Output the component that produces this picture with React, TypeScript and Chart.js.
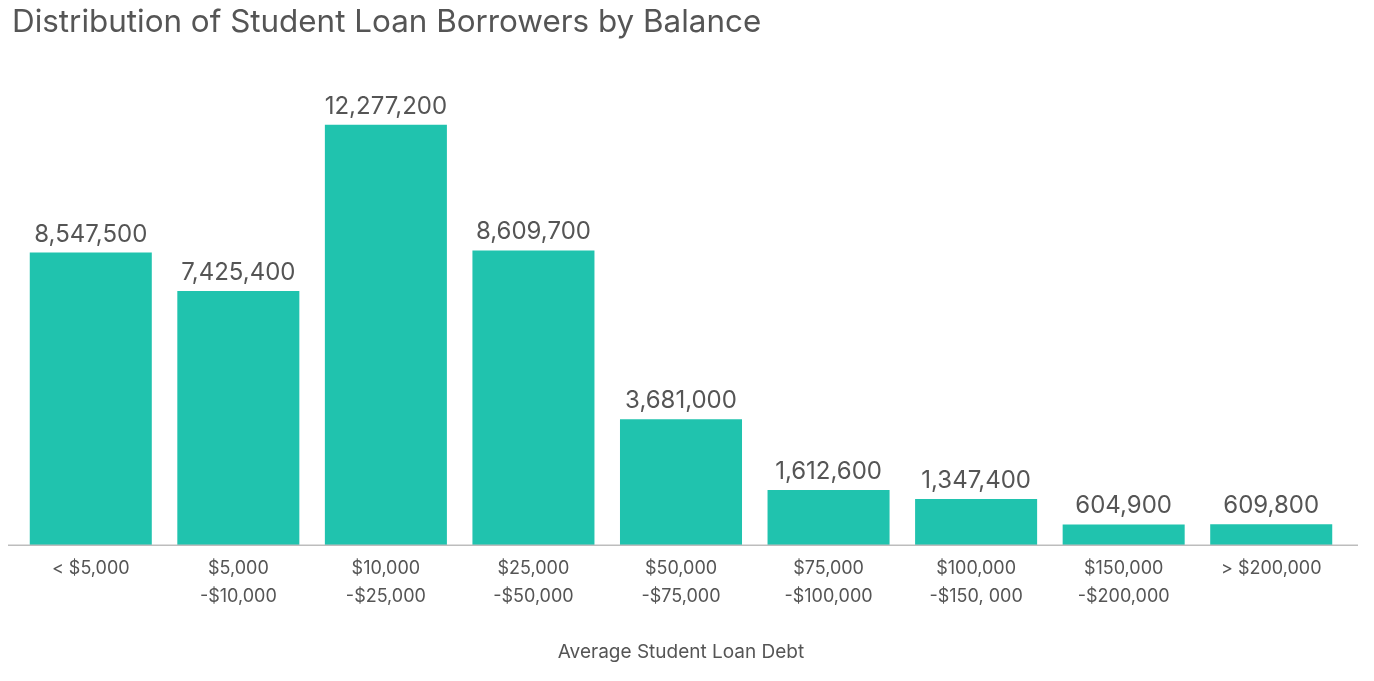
import React, { useEffect, useRef } from 'react';
import { Chart, registerables } from 'chart.js';

Chart.register(...registerables);

const categories: string[][] = [
  ['< $5,000'],
  ['$5,000', '-$10,000'],
  ['$10,000', '-$25,000'],
  ['$25,000', '-$50,000'],
  ['$50,000', '-$75,000'],
  ['$75,000', '-$100,000'],
  ['$100,000', '-$150, 000'],
  ['$150,000', '-$200,000'],
  ['> $200,000'],
];

const borrowers: number[] = [
  8547500, 7425400, 12277200, 8609700, 3681000, 1612600, 1347400, 604900, 609800,
];

const chartTitle = 'Distribution of Student Loan Borrowers by Balance';
const axisTitle = 'Average Student Loan Debt';

const FONT = 'Inter, "Noto Sans", sans-serif';
const TEXT = '#555555';

// title, bar value labels and the base line
const decorations = {
  id: 'decorations',
  afterDatasetsDraw(chart: Chart) {
    const ctx = chart.ctx;
    ctx.save();
    ctx.fillStyle = TEXT;
    ctx.font = `31.4px ${FONT}`;
    ctx.textAlign = 'left';
    ctx.textBaseline = 'alphabetic';
    ctx.fillText(chartTitle, 12, 32);

    ctx.font = `24px ${FONT}`;
    ctx.textAlign = 'center';
    const meta = chart.getDatasetMeta(0);
    meta.data.forEach((bar: any, i: number) => {
      const v = chart.data.datasets[0].data[i] as number;
      ctx.fillText(v.toLocaleString('en-US'), bar.x, bar.y - 11);
    });

    const y = chart.scales.y.getPixelForValue(0);
    ctx.strokeStyle = '#bdbdbd';
    ctx.lineWidth = 1.5;
    ctx.beginPath();
    ctx.moveTo(8, y);
    ctx.lineTo(1358, y);
    ctx.stroke();
    ctx.restore();
  },
};

export default function App() {
  const canvasRef = useRef<HTMLCanvasElement>(null);

  useEffect(() => {
    if (!canvasRef.current) return;
    const chart = new Chart(canvasRef.current, {
      type: 'bar',
      data: {
        labels: categories,
        datasets: [
          {
            data: borrowers,
            backgroundColor: '#20c3ae',
            categoryPercentage: 1,
            barPercentage: 0.827,
          },
        ],
      },
      options: {
        animation: false,
        responsive: true,
        maintainAspectRatio: false,
        layout: { padding: { top: 83, left: 17, right: 29, bottom: 17 } },
        plugins: {
          legend: { display: false },
          tooltip: { enabled: false },
        },
        scales: {
          x: {
            grid: { display: false },
            border: { display: false },
            ticks: {
              color: TEXT,
              padding: 1,
              maxRotation: 0,
              autoSkip: false,
              font: { family: FONT, size: 18, lineHeight: 1.556 },
            },
            title: {
              display: true,
              text: axisTitle,
              color: TEXT,
              padding: { top: 30, bottom: 0 },
              font: { family: FONT, size: 19, lineHeight: 1.2 },
            },
          },
          y: {
            display: false,
            min: 0,
            max: 13500000,
          },
        },
      },
      plugins: [decorations],
    });
    return () => chart.destroy();
  }, []);

  return (
    <div style={{ position: 'absolute', left: 0, top: 0, width: 1374, height: 681 }}>
      <canvas ref={canvasRef} />
    </div>
  );
}
